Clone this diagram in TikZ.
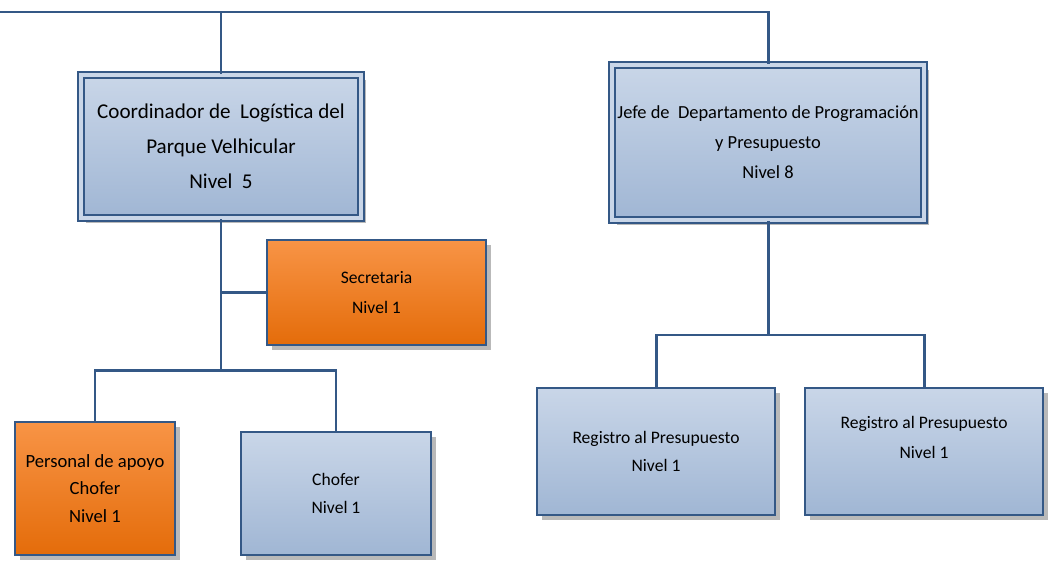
\documentclass[tikz,border=0pt]{standalone}
\usepackage{fontspec}
\setmainfont{Carlito}
\usetikzlibrary{shadows}

\definecolor{lineblue}{RGB}{52,88,134}
\definecolor{boxtop}{RGB}{201,214,232}
\definecolor{boxbot}{RGB}{160,182,212}
\definecolor{orangetop}{RGB}{248,148,70}
\definecolor{orangebot}{RGB}{228,108,10}

\tikzset{
    unit/.style = {draw = lineblue, line width = 1.2pt, align = center, inner sep = 0pt,
        drop shadow = {shadow xshift = 3pt, shadow yshift = -3pt, fill = black!50, opacity = 0.55}},
    bluebox/.style = {unit, top color = boxtop, bottom color = boxbot},
    orangebox/.style = {unit, top color = orangetop, bottom color = orangebot},
    headbox/.style = {bluebox, double = boxtop, double distance = 2.6pt},
    link/.style = {draw = lineblue, line width = 1.7pt},
}

\begin{document}
\begin{tikzpicture}[x = 0.02cm, y = -0.02cm]
    \useasboundingbox (0, 0) rectangle (1050, 561);
    % jefaturas
    \node[headbox, minimum width = 5.6cm, minimum height = 2.86cm,
        font = \fontsize{12}{20}\selectfont] (coord) at (221, 146.5)
        {Coordinador de\ \ Logística del\\ Parque Velhicular\\ Nivel\ \ 5};
    \node[headbox, minimum width = 6.24cm, minimum height = 3.1cm,
        font = \fontsize{10.5}{17}\selectfont] (jefe) at (768, 142.5)
        {Jefe de\ \ Departamento de Programación\\ y Presupuesto\\ Nivel 8};
    % lado izquierdo
    \node[orangebox, minimum width = 4.38cm, minimum height = 2.1cm,
        font = \fontsize{10}{17}\selectfont] (secr) at (376.5, 292.5)
        {Secretaria\\ Nivel 1};
    \node[orangebox, minimum width = 3.2cm, minimum height = 2.66cm,
        font = \fontsize{10.6}{15.5}\selectfont] (apoyo) at (95, 488.5)
        {Personal de apoyo\\ Chofer\\ Nivel 1};
    \node[bluebox, minimum width = 3.8cm, minimum height = 2.46cm,
        font = \fontsize{10}{15.5}\selectfont] (chofer) at (336, 493.5)
        {Chofer\\ Nivel 1};
    % lado derecho
    \node[bluebox, minimum width = 4.76cm, minimum height = 2.54cm,
        font = \fontsize{10}{16}\selectfont] (regone) at (656, 451.5)
        {Registro al Presupuesto\\ Nivel 1};
    \node[bluebox, minimum width = 4.76cm, minimum height = 2.54cm] (regtwo) at (924, 451.5) {};
    \node[font = \fontsize{10}{17}\selectfont, align = center] (regtwotext)
        at ([yshift = 8pt] regtwo.center) {Registro al Presupuesto\\ Nivel 1};
    % lineas
    \coordinate (top) at (0, 12);
    \coordinate (lbar) at (221, 370);
    \coordinate (rbar) at (768, 335);
    \draw[link] (top) -| (coord.north);
    \draw[link] (top) -| (jefe.north);
    \draw[link] (coord.south) -- (lbar);
    \draw[link] (secr.west) -- (secr.west -| coord.south);
    \draw[link] (apoyo.north) |- (lbar) -| (chofer.north);
    \draw[link] (jefe.south) -- (rbar);
    \draw[link] (regone.north) |- (rbar) -| (regtwo.north);
\end{tikzpicture}
\end{document}
